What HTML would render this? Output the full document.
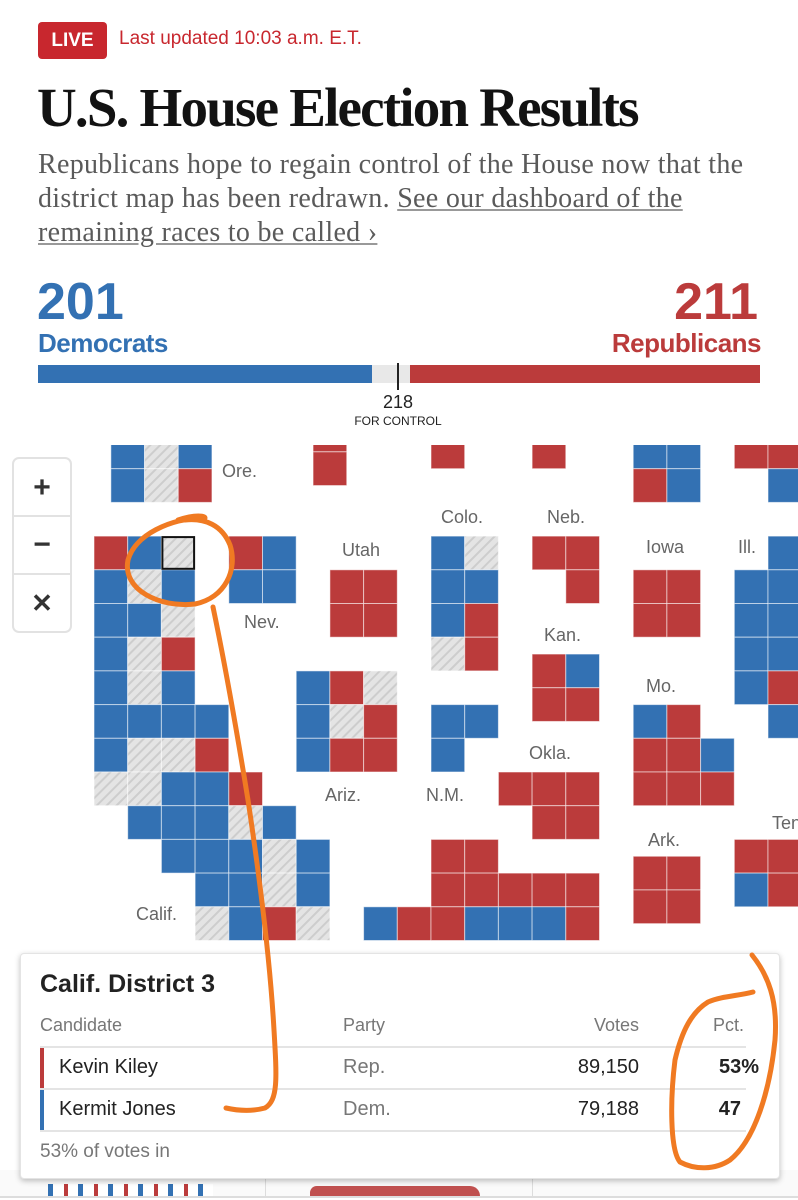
<!DOCTYPE html>
<html><head><meta charset="utf-8">
<style>
*{margin:0;padding:0;box-sizing:border-box}
body{width:798px;height:1200px;overflow:hidden;background:#fff;position:relative;font-family:"Liberation Sans",sans-serif}
.abs{position:absolute;white-space:nowrap}
.narrow{font-family:"Liberation Sans Narrow","Liberation Sans",sans-serif}
</style></head><body>
<div class="abs" style="left:38px;top:22px;width:69px;height:37px;background:#c8272e;border-radius:4px;color:#fff;font-weight:bold;font-size:19px;line-height:37px;text-align:center;font-family:'Liberation Sans Narrow','Liberation Sans',sans-serif">LIVE</div>
<div class="abs narrow" style="left:119px;top:28px;font-size:19px;color:#c8272e">Last updated 10:03 a.m. E.T.</div>
<div class="abs" style="left:37px;top:76px;font-family:'Liberation Serif',serif;font-weight:bold;font-size:55px;letter-spacing:-1.8px;color:#121212">U.S. House Election Results</div>
<div class="abs" style="left:38px;top:148px;font-family:'Liberation Serif',serif;font-size:28px;line-height:34px;color:#5a5a5a;letter-spacing:0.3px">Republicans hope to regain control of the House now that the<br>district map has been redrawn. <a style="color:#5a5a5a;text-decoration:underline;text-decoration-color:#999">See our dashboard of the<br>remaining races to be called ›</a></div>

<div class="abs" style="left:37px;top:272px;font-size:52px;font-weight:bold;color:#3371b3">201</div>
<div class="abs" style="left:38px;top:328px;font-size:26px;font-weight:bold;color:#3371b3;letter-spacing:-0.5px">Democrats</div>
<div class="abs" style="right:40px;top:272px;font-size:52px;font-weight:bold;color:#bb3b3b">211</div>
<div class="abs" style="right:37px;top:328px;font-size:26px;font-weight:bold;color:#bb3b3b;letter-spacing:-0.5px">Republicans</div>
<div class="abs" style="left:38px;top:365px;width:722px;height:18px;background:#e8e8e8"></div>
<div class="abs" style="left:38px;top:365px;width:334px;height:18px;background:#3371b3"></div>
<div class="abs" style="left:410px;top:365px;width:350px;height:18px;background:#bb3b3b"></div>
<div class="abs" style="left:397px;top:363px;width:2px;height:27px;background:#222"></div>
<div class="abs" style="left:378px;top:392px;width:40px;text-align:center;font-size:18px;color:#222">218</div>
<div class="abs" style="left:338px;top:414px;width:120px;text-align:center;font-size:12px;color:#222">FOR CONTROL</div>

<svg class="abs" style="left:0;top:0" width="798" height="1200" id="map">
<defs>
<pattern id="hatch" width="7" height="7" patternUnits="userSpaceOnUse" patternTransform="rotate(45)">
<rect width="7" height="7" fill="#e4e4e4"/><rect width="2" height="7" fill="#cdcdcd"/></pattern>
<clipPath id="mclip"><rect x="0" y="445" width="798" height="500"/></clipPath>
</defs>
<g id="cells" clip-path="url(#mclip)"></g>
<g font-size="18" fill="#666" font-family="Liberation Sans, sans-serif">
<text x="222" y="477">Ore.</text>
<text x="244" y="628">Nev.</text>
<text x="342" y="556">Utah</text>
<text x="441" y="523">Colo.</text>
<text x="547" y="523">Neb.</text>
<text x="544" y="641">Kan.</text>
<text x="646" y="553">Iowa</text>
<text x="738" y="553">Ill.</text>
<text x="646" y="692">Mo.</text>
<text x="529" y="759">Okla.</text>
<text x="325" y="801">Ariz.</text>
<text x="426" y="801">N.M.</text>
<text x="648" y="846">Ark.</text>
<text x="772" y="829">Ten</text>
<text x="136" y="920">Calif.</text>
</g>
</svg>

<div class="abs" style="left:12px;top:457px;width:60px;height:176px;background:#fff;border:2px solid #e2e2e2;border-radius:7px">
<div style="height:58px;border-bottom:2px solid #e2e2e2;text-align:center;font-size:30px;line-height:58px;font-weight:bold;color:#333">+</div>
<div style="height:58px;border-bottom:2px solid #e2e2e2;text-align:center;font-size:30px;line-height:56px;font-weight:bold;color:#333">−</div>
<div style="height:56px;text-align:center;font-size:26px;line-height:56px;font-weight:bold;color:#333">✕</div>
</div>

<div class="abs" style="left:0;top:1170px;width:798px;height:28px;background:#fafafa;border-bottom:2px solid #ddd">
<div style="position:absolute;left:265px;top:0;width:1px;height:28px;background:#ddd"></div>
<div style="position:absolute;left:532px;top:0;width:1px;height:28px;background:#ddd"></div>
<div style="position:absolute;left:48px;top:14px;width:165px;height:12px;background:repeating-linear-gradient(90deg,#3371b3 0 5px,#fff 5px 16px,#bb3b3b 16px 20px,#fff 20px 30px)"></div>
<div style="position:absolute;left:310px;top:16px;width:170px;height:10px;background:#c0504f;border-radius:20px 30px 0 0"></div>
</div>

<div class="abs" style="left:20px;top:953px;width:760px;height:226px;background:#fff;border:1px solid #e4e4e4;border-radius:4px;box-shadow:0 2px 6px rgba(0,0,0,0.25)">
<div class="abs narrow" style="left:19px;top:16px;font-size:25px;font-weight:bold;color:#222">Calif. District 3</div>
<div class="abs narrow" style="left:19px;top:61px;font-size:18px;color:#777">Candidate</div>
<div class="abs narrow" style="left:322px;top:61px;font-size:18px;color:#777">Party</div>
<div class="abs narrow" style="right:140px;top:61px;font-size:18px;color:#777">Votes</div>
<div class="abs narrow" style="right:35px;top:61px;font-size:18px;color:#777">Pct.</div>
<div class="abs" style="left:19px;top:92px;width:706px;height:2px;background:#e4e4e4"></div>
<div class="abs" style="left:19px;top:94px;width:4px;height:40px;background:#bb3b3b"></div>
<div class="abs narrow" style="left:38px;top:102px;font-size:20px;color:#222">Kevin Kiley</div>
<div class="abs narrow" style="left:322px;top:102px;font-size:20px;color:#777">Rep.</div>
<div class="abs narrow" style="right:140px;top:102px;font-size:20px;color:#222">89,150</div>
<div class="abs narrow" style="right:20px;top:102px;font-size:20px;color:#222;font-weight:bold">53%</div>
<div class="abs" style="left:19px;top:134px;width:706px;height:2px;background:#e4e4e4"></div>
<div class="abs" style="left:19px;top:136px;width:4px;height:40px;background:#3371b3"></div>
<div class="abs narrow" style="left:38px;top:144px;font-size:20px;color:#222">Kermit Jones</div>
<div class="abs narrow" style="left:322px;top:144px;font-size:20px;color:#777">Dem.</div>
<div class="abs narrow" style="right:140px;top:144px;font-size:20px;color:#222">79,188</div>
<div class="abs narrow" style="right:38px;top:144px;font-size:20px;color:#222;font-weight:bold">47</div>
<div class="abs" style="left:19px;top:176px;width:706px;height:2px;background:#e4e4e4"></div>
<div class="abs narrow" style="left:19px;top:187px;font-size:19px;color:#777">53% of votes in</div>
</div>

<svg class="abs" style="left:0;top:0;pointer-events:none" width="798" height="1200">
<path fill="none" stroke="#f07a22" stroke-width="5" stroke-linecap="round" stroke-linejoin="round"
 d="M178,520 C196,514 205,516 205,518 C170,518 135,535 128,560 C122,590 160,608 195,604 C225,598 238,570 230,545 C222,525 205,518 185,520 M213,607 C222,650 235,720 248,800 C260,880 270,960 274,1030 C277,1080 278,1100 265,1108 C250,1112 235,1110 226,1108"/>
<path fill="none" stroke="#f07a22" stroke-width="5" stroke-linecap="round" stroke-linejoin="round"
 d="M752,955 C768,975 778,1000 775,1040 C770,1090 755,1140 730,1160 C715,1170 695,1170 680,1162 C670,1150 670,1100 675,1060 C682,1030 692,1012 708,1002 C722,996 738,996 753,992"/>
</svg>

<script>
// Party of each district cell: columns, rows and results kept in separate arrays
const cellCols = [0.5,1.5,2.5,0.5,1.5,2.5, 6.5,6.5, 10,13, 16,17,16,17, 19,20,20,
 0,1,2,4,5, 0,1,2,4,5, 0,1,2, 0,1,2, 0,1,2, 0,1,2,3, 0,1,2,3, 0,1,2,3,4, 1,2,3,4,5, 2,3,4,5,6, 3,4,5,6, 3,4,5,6,
 7,8,7,8, 6,7,8,6,7,8,6,7,8,
 10,11,10,11,10,11,10,11, 13,14,14, 13,14,13,14, 10,11,10,
 12,13,14,13,14, 10,11,10,11,12,13,14, 8,9,10,11,12,13,14,
 16,17,16,17, 16,17,16,17,18,16,17,18, 16,17,16,17,
 19,19,19,19, 20,20,20,20,20,20, 19,20,19,20];
const cellRows = [0,0,0,1,1,1, -0.5,0.5, 0,0, 0,0,1,1, 0,0,1,
 3,3,3,3,3, 4,4,4,4,4, 5,5,5, 6,6,6, 7,7,7, 8,8,8,8, 9,9,9,9, 10,10,10,10,10, 11,11,11,11,11, 12,12,12,12,12, 13,13,13,13, 14,14,14,14,
 4,4,5,5, 7,7,7,8,8,8,9,9,9,
 3,3,4,4,5,5,6,6, 3,3,4, 6.5,6.5,7.5,7.5, 8,8,9,
 10,10,10,11,11, 12,12,13,13,13,13,13, 14,14,14,14,14,14,14,
 4,4,5,5, 8,8,9,9,9,10,10,10, 12.5,12.5,13.5,13.5,
 4,5,6,7, 3,4,5,6,7,8, 12,12,13,13];
const cellParty = ['D','G','D','D','G','R', 'R','R', 'R','R', 'D','D','R','D', 'R','R','D',
 'R','D','G','R','D', 'D','G','D','D','D', 'D','D','G', 'D','G','R', 'D','G','D', 'D','D','D','D', 'D','G','G','R', 'G','G','D','D','R', 'D','D','D','G','D', 'D','D','D','G','D', 'D','D','G','D', 'G','D','R','G',
 'R','R','R','R', 'D','R','G','D','G','R','D','R','R',
 'D','G','D','D','D','R','G','R', 'R','R','R', 'R','D','R','R', 'D','D','D',
 'R','R','R','R','R', 'R','R','R','R','R','R','R', 'D','R','R','D','D','D','R',
 'R','R','R','R', 'D','R','R','R','D','R','R','R', 'R','R','R','R',
 'D','D','D','D', 'D','D','D','D','R','D', 'R','R','D','R'];
const selectedCell = [2,3];

const colX = c => 94 + c*33.7;
const rowY = r => 435 + r*33.7;
const fills = {D:'#3371b3', R:'#bb3b3b', G:'url(#hatch)'};
const g = document.getElementById('cells');
const NS = 'http://www.w3.org/2000/svg';
for (let i=0;i<cellCols.length;i++){
  const r = document.createElementNS(NS,'rect');
  r.setAttribute('x', colX(cellCols[i]));
  r.setAttribute('y', rowY(cellRows[i]));
  r.setAttribute('width', 33.7);
  r.setAttribute('height', 33.7);
  r.setAttribute('fill', fills[cellParty[i]]);
  r.setAttribute('stroke', 'rgba(255,255,255,0.55)');
  r.setAttribute('stroke-width', '1');
  
  
  g.appendChild(r);
}
const sel = document.createElementNS(NS,'rect');
sel.setAttribute('x', colX(selectedCell[0])+1);
sel.setAttribute('y', rowY(selectedCell[1])+1);
sel.setAttribute('width', 31.7);
sel.setAttribute('height', 31.7);
sel.setAttribute('fill', 'none');
sel.setAttribute('stroke', '#111');
sel.setAttribute('stroke-width', '2');


g.appendChild(sel);
</script>
</body></html>
